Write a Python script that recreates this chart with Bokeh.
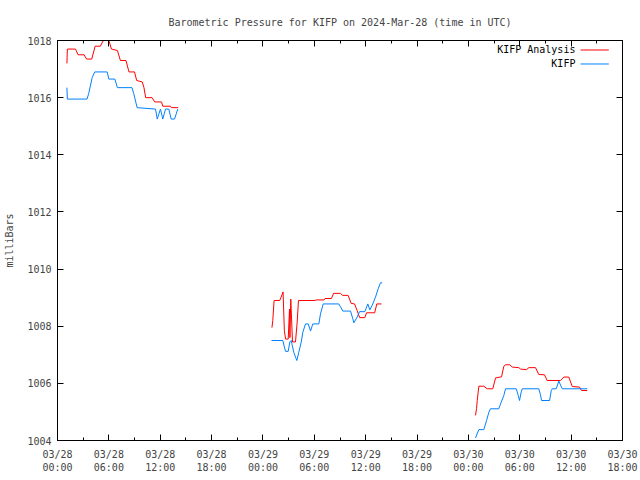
import math
from bokeh.plotting import figure
from bokeh.models import Range1d, FixedTicker, LinearAxis, Label, CustomJSTickFormatter
from bokeh.embed import file_html
from bokeh.resources import INLINE

NaN = float("nan")

# hours since 2024-03-28 00:00 UTC
red_t1 = [1.10, 1.15, 2.10, 2.40, 3.10, 3.40, 4.00, 4.40, 5.00, 5.35, 6.00, 6.30, 7.00, 7.35,
          8.00, 8.35, 9.00, 9.25, 9.90, 10.10, 10.30, 11.05, 11.35, 12.15, 12.30, 13.20, 13.30, 14.10]
red_v1 = [1017.2, 1017.7, 1017.7, 1017.5, 1017.5, 1017.35, 1017.35, 1017.8, 1017.8, 1018.0, 1018.0,
          1017.7, 1017.65, 1017.3, 1017.3, 1016.9, 1016.9, 1016.6, 1016.55, 1016.35, 1016.0, 1016.0,
          1015.85, 1015.85, 1015.7, 1015.7, 1015.65, 1015.65]
red_t2 = [25.05, 25.15, 25.30, 25.95, 26.10, 26.35, 26.50, 26.65, 26.95, 27.10, 27.15, 27.25, 27.45,
          27.80, 28.00, 28.15, 30.10, 30.20, 31.15, 31.25, 32.00, 32.25, 33.05, 33.30, 33.95, 34.30,
          34.70, 35.00, 35.30, 35.90, 36.10, 37.05, 37.30, 37.85]
red_v2 = [1007.95, 1008.2, 1008.9, 1008.9, 1009.0, 1009.2, 1007.85, 1007.55, 1007.55, 1008.6, 1007.6,
          1008.95, 1007.45, 1007.45, 1008.15, 1008.9, 1008.9, 1008.92, 1008.92, 1008.97, 1008.97,
          1009.15, 1009.15, 1009.08, 1009.08, 1008.8, 1008.78, 1008.55, 1008.3, 1008.3, 1008.47,
          1008.47, 1008.78, 1008.78]
red_t3 = [48.83, 48.95, 49.03, 49.22, 49.80, 50.20, 50.85, 51.17, 51.87, 52.14, 52.34, 52.84, 53.12,
          53.89, 54.09, 54.79, 55.06, 55.84, 56.22, 56.89, 57.20, 58.76, 59.15, 59.73, 60.13, 60.98,
          61.21, 61.88]
red_v3 = [1004.88, 1005.11, 1005.4, 1005.9, 1005.9, 1005.81, 1005.81, 1006.19, 1006.23, 1006.6,
          1006.65, 1006.65, 1006.57, 1006.55, 1006.5, 1006.48, 1006.55, 1006.55, 1006.31, 1006.3,
          1006.1, 1006.1, 1006.22, 1006.22, 1005.89, 1005.87, 1005.75, 1005.75]

blue_t1 = [1.10, 1.15, 3.45, 3.65, 4.05, 4.35, 5.80, 6.00, 6.70, 7.00, 8.70, 8.90, 9.30, 11.45, 11.65,
           12.03, 12.30, 12.62, 13.00, 13.28, 13.67, 14.05]
blue_v1 = [1016.35, 1015.95, 1015.95, 1016.15, 1016.7, 1016.9, 1016.9, 1016.65, 1016.65, 1016.35,
           1016.35, 1016.15, 1015.65, 1015.6, 1015.25, 1015.6, 1015.25, 1015.6, 1015.6, 1015.25,
           1015.25, 1015.6]
blue_t2 = [25.00, 26.32, 26.55, 26.64, 26.95, 27.14, 27.30, 27.42, 27.60, 27.80, 27.96, 28.19, 28.47,
           28.66, 28.97, 29.29, 29.56, 29.82, 30.53, 30.72, 31.04, 32.86, 33.06, 33.33, 34.23, 34.50,
           34.62, 35.01, 35.28, 35.90, 36.25, 36.48, 36.76, 37.15, 37.46, 37.73, 37.93]
blue_v2 = [1007.5, 1007.5, 1007.21, 1007.12, 1007.12, 1007.45, 1007.5, 1007.33, 1007.09, 1006.92,
           1006.8, 1007.09, 1007.44, 1007.79, 1008.08, 1008.08, 1007.83, 1008.08, 1008.08, 1008.43,
           1008.78, 1008.78, 1008.68, 1008.53, 1008.53, 1008.26, 1008.12, 1008.32, 1008.51, 1008.51,
           1008.78, 1008.57, 1008.73, 1009.02, 1009.31, 1009.52, 1009.52]
blue_t3 = [48.83, 49.22, 49.80, 50.12, 50.39, 50.58, 51.55, 51.83, 52.14, 52.34, 53.59, 53.82, 53.97,
           54.17, 54.29, 56.22, 56.42, 56.54, 57.48, 57.68, 57.79, 58.26, 58.56, 58.96, 61.88]
blue_v3 = [1004.09, 1004.38, 1004.38, 1004.7, 1004.99, 1005.11, 1005.11, 1005.34, 1005.58, 1005.81,
           1005.81, 1005.58, 1005.4, 1005.7, 1005.81, 1005.81, 1005.6, 1005.4, 1005.4, 1005.75,
           1005.81, 1005.81, 1006.08, 1005.81, 1005.81]

x_ticks = [0, 6, 12, 18, 24, 30, 36, 42, 48, 54, 60, 66]
x_tick_labels = ["03/28\n00:00", "03/28\n06:00", "03/28\n12:00", "03/28\n18:00",
                 "03/29\n00:00", "03/29\n06:00", "03/29\n12:00", "03/29\n18:00",
                 "03/30\n00:00", "03/30\n06:00", "03/30\n12:00", "03/30\n18:00"]
y_ticks = [1004, 1006, 1008, 1010, 1012, 1014, 1016, 1018]

series_names = ["KIFP Analysis", "KIFP"]
RED = "#ff0000"
BLUE = "#0080ff"
FONT = "DejaVu Sans Mono"


def join(*segs):
    out = []
    for i, s in enumerate(segs):
        if i:
            out.append(NaN)
        out.extend(s)
    return out


p = figure(width=640, height=480, output_backend="svg", toolbar_location=None,
           x_range=Range1d(0, 66), y_range=Range1d(1004, 1018),
           min_border_left=57, min_border_right=18, min_border_top=40, min_border_bottom=40,
           title="Barometric Pressure for KIFP on 2024-Mar-28 (time in UTC)")
p.title.align = "center"
p.title.text_font = FONT
p.title.text_font_size = "10px"
p.title.text_font_style = "normal"
p.title.standoff = 26

p.xgrid.visible = False
p.ygrid.visible = False
p.outline_line_color = "black"
p.outline_line_width = 1
p.background_fill_color = "white"
p.border_fill_color = "white"

minor_x = [t + 3 for t in x_ticks[:-1]]

for ax in p.xaxis:
    ax.ticker = FixedTicker(ticks=x_ticks, minor_ticks=minor_x)
    ax.major_label_overrides = {t: l for t, l in zip(x_ticks, x_tick_labels)}
    ax.major_tick_in = 6
    ax.major_tick_out = 0
    ax.minor_tick_in = 3
    ax.minor_tick_out = 0
    ax.major_label_text_font = FONT
    ax.major_label_text_font_size = "10px"
    ax.major_label_standoff = 8
    ax.axis_line_color = "black"

for ax in p.yaxis:
    ax.ticker = FixedTicker(ticks=y_ticks, minor_ticks=[])
    ax.major_tick_in = 6
    ax.major_tick_out = 0
    ax.major_label_text_font = FONT
    ax.major_label_text_font_size = "10px"
    ax.major_label_standoff = 6
    ax.axis_label = "milliBars"
    ax.axis_label_text_font = FONT
    ax.axis_label_text_font_size = "10px"
    ax.axis_label_text_font_style = "normal"
    ax.axis_label_standoff = 9

blank = CustomJSTickFormatter(code="return '';")
top = LinearAxis(ticker=FixedTicker(ticks=x_ticks, minor_ticks=minor_x), formatter=blank,
                 major_tick_in=6, major_tick_out=0, minor_tick_in=3, minor_tick_out=0,
                 major_label_standoff=0, axis_line_color="black")
p.add_layout(top, "above")
right = LinearAxis(ticker=FixedTicker(ticks=y_ticks, minor_ticks=[]), formatter=blank,
                   major_tick_in=6, major_tick_out=0, minor_tick_in=0, minor_tick_out=0,
                   major_label_standoff=0, axis_line_color="black")
p.add_layout(right, "right")

p.line(join(red_t1, red_t2, red_t3), join(red_v1, red_v2, red_v3), line_color=RED, line_width=1)
p.line(join(blue_t1, blue_t2, blue_t3), join(blue_v1, blue_v2, blue_v3), line_color=BLUE, line_width=1)

# gnuplot-style key (text then sample line), top right
key_y = [1017.668, 1017.178]
colors = [RED, BLUE]
for name, ky in zip(series_names, key_y):
    p.add_layout(Label(x=60.5, y=ky, text=name, text_align="right", text_baseline="middle",
                       text_font=FONT, text_font_size="10px", text_color="black"))
p.segment(x0=[61.1, 61.1], y0=key_y, x1=[64.4, 64.4], y1=key_y, line_color=colors, line_width=1)

open("out.html", "w").write(file_html(p, INLINE))
